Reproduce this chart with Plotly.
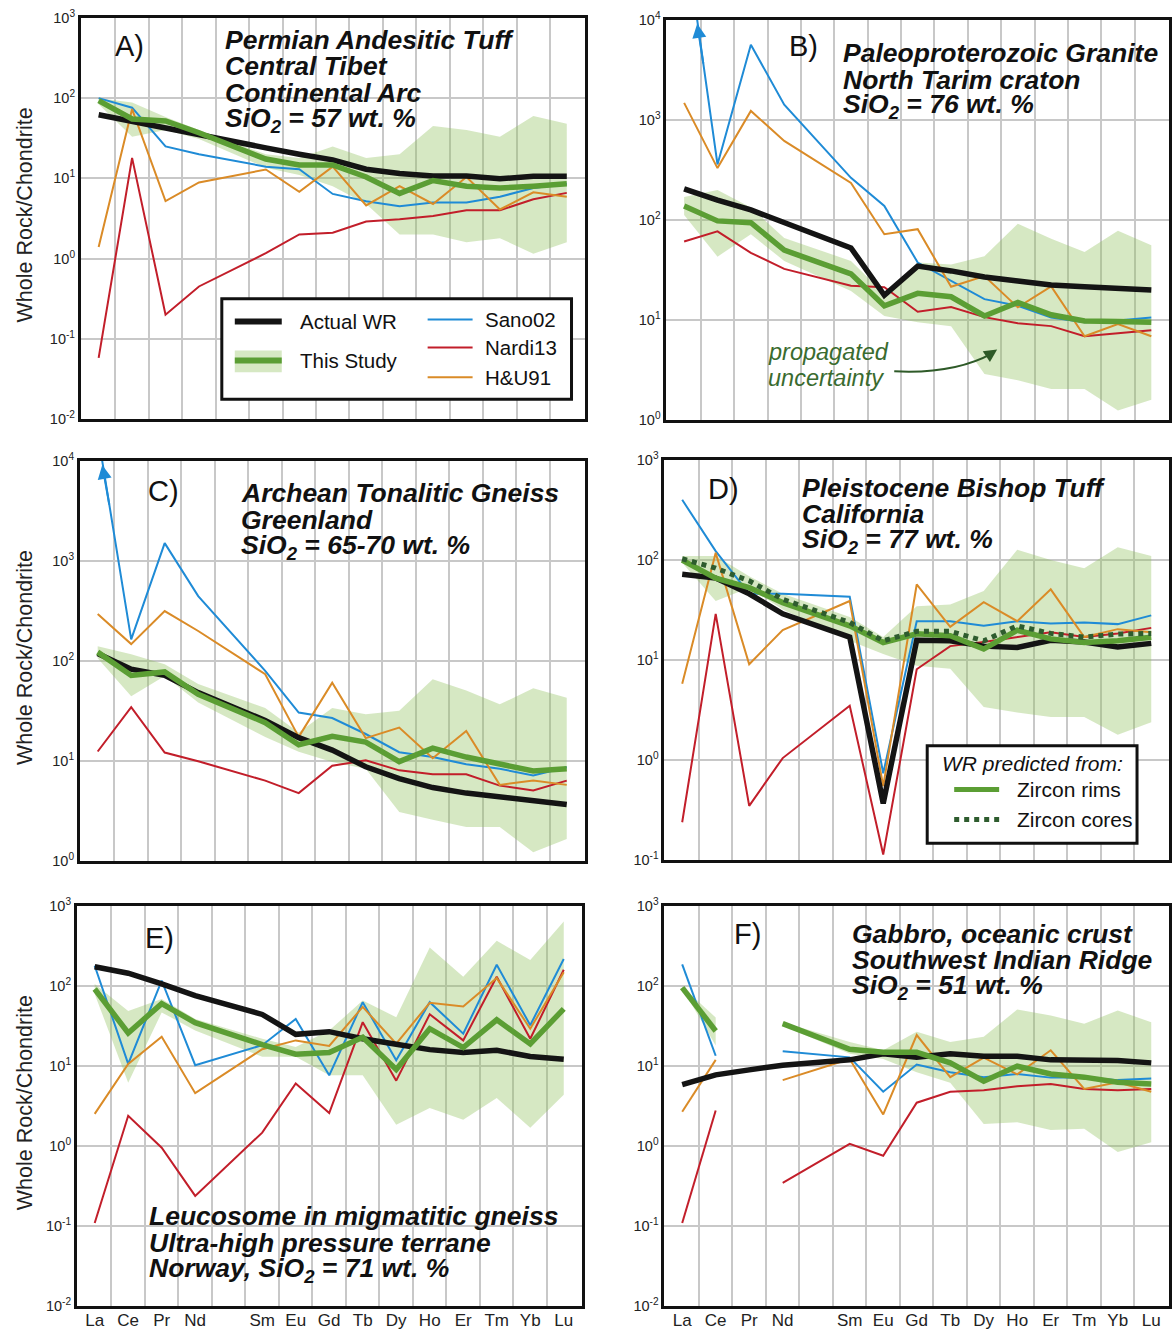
import math
import plotly.graph_objects as go

W, H = 1172, 1333

# Rare earth elements, chondrite-normalised; Pm keeps an empty slot on the axis
REE = ["La", "Ce", "Pr", "Nd", "Sm", "Eu", "Gd", "Tb", "Dy", "Ho", "Er", "Tm", "Yb", "Lu"]
XPOS = [i if i < 4 else i + 1 for i in range(len(REE))]

# A) Permian andesitic tuff, central Tibet
A_wr = [62, 51, 43, 35, 24, 20, 17, 13, 11.5, 10.7, 10.7, 9.9, 10.6, 10.6]
A_est = [93, 55, 52, 37, 17.4, 14.7, 14.7, 10.4, 6.5, 9.4, 8.0, 7.6, 8.0, 8.6]
A_hi = [100, 88, 58, 40, 20, 18, 25, 18, 20, 45, 40, 33, 60, 48]
A_lo = [84, 33, 40, 31, 13.6, 11, 8, 4.8, 2.0, 2.0, 1.6, 1.8, 1.15, 1.6]
A_sano = [100, 76, 25, 20, 14, 13, 6.4, 5.2, 4.5, 5.0, 5.0, 5.9, 7.6, 8.6]
A_nardi = [0.058, 18, 0.2, 0.45, 1.17, 2.0, 2.1, 2.9, 3.1, 3.4, 4.0, 4.0, 5.5, 6.6]
A_hu = [1.4, 73, 5.2, 8.9, 12.9, 6.8, 14, 4.6, 8.0, 4.8, 10.4, 4.1, 6.7, 5.9]

# B) Paleoproterozoic granite, North Tarim craton
B_wr = [205, 158, 126, 94, 52.6, 17.7, 34.6, 31, 27, 24.6, 22.4, 21.5, 21, 20]
B_est = [138, 98, 94, 50, 29, 13.9, 18.5, 17.1, 11, 15, 11.3, 9.8, 9.7, 9.5]
B_hi = [170, 199, 133, 66, 39, 18.3, 37.6, 36, 43.5, 92, 65, 48, 78, 56]
B_lo = [112, 43, 72, 39, 19.5, 11, 9.5, 8.7, 2.9, 2.5, 2.05, 2.05, 1.25, 1.6]
B_sano = [85000, 359, 5630, 1420, 264, 138, 37.6, 24.7, 16.2, 13.9, 10.6, 9.5, 9.9, 10.6]
B_nardi = [61, 77, 47, 32.5, 22, 21.3, 12.1, 13.5, 10.7, 9.3, 8.7, 6.9, 7.4, 7.9]
B_hu = [1480, 330, 1230, 617, 235, 72, 81, 21.5, 27.5, 13.4, 21.7, 6.9, 9.1, 6.9]

# C) Archean tonalitic gneiss, Greenland
C_wr = [119, 83, 72, 48.5, 25.5, 17.2, 12.9, 8.8, 6.7, 5.45, 4.8, 4.4, 4.0, 3.7]
C_est = [123, 72, 78, 46.5, 24.3, 14.6, 17.7, 15.5, 9.9, 13.5, 11, 9.4, 8.0, 8.4]
C_hi = [141, 117, 93, 59, 34, 19.3, 34, 29.5, 32, 66, 51, 37, 53.5, 43]
C_lo = [107, 44.6, 71, 38.5, 17.5, 12.4, 9.8, 8.4, 3.1, 2.6, 2.2, 2.2, 1.23, 1.67]
C_sano = [19000, 165, 1510, 446, 80, 30.6, 27, 18.7, 12.3, 11, 9.3, 8.4, 7.2, 8.7]
C_nardi = [12.5, 34.6, 12.2, 10, 6.4, 4.8, 9.0, 10.2, 8.1, 7.4, 7.4, 5.7, 5.1, 6.4]
C_hu = [296, 148, 316, 200, 74, 17.5, 61, 17, 21.7, 10.7, 20, 5.8, 6.4, 5.8]

# D) Pleistocene Bishop Tuff, California
D_wr = [72, 66, 46, 29, 17, 0.37, 15.8, 15.6, 13.8, 13.4, 15.8, 15.2, 13.5, 14.7]
D_rims = [100, 66, 53, 37.6, 22, 15, 18.3, 17.5, 12.9, 19.9, 16.3, 15, 15.6, 16.9]
D_cores = [103, 83, 62, 40.6, 23.8, 15.6, 19.4, 19.4, 15.6, 22, 18.5, 17, 18.2, 18.5]
D_hi = [110, 110, 69, 46, 27, 17, 34.6, 36, 49, 127, 100, 83, 134, 110]
D_lo = [94, 39, 53, 32, 15.6, 11.5, 8.8, 8.2, 3.4, 3.0, 2.7, 2.7, 1.8, 2.4]
D_sano = [400, 123, 46, 46, 43, 0.74, 24.5, 24.5, 22, 24.5, 23.2, 23.8, 22.9, 28]
D_nardi = [0.24, 29, 0.35, 1.05, 3.5, 0.114, 8.1, 13.8, 15.2, 17, 19, 17, 18.5, 21]
D_hu = [5.8, 118, 9.1, 20, 39, 0.55, 57, 21.5, 38, 24.5, 51, 17, 20.4, 19]

# E) Leucosome in migmatitic gneiss, Norway
E_wr = [175, 145, 107, 76, 44.3, 25, 27, 22, 18.8, 16.1, 14.8, 15.8, 13.2, 12.2]
E_est = [92, 26, 60.5, 35, 18.6, 14.1, 14.8, 23, 9.1, 29.4, 17.1, 38, 19, 52]
E_hi = [106, 49, 69, 39, 22, 17.4, 28, 66, 41, 303, 131, 368, 212, 640]
E_lo = [80, 6.2, 47, 28, 13.1, 13.1, 7.7, 7.7, 1.86, 3.0, 2.15, 4.0, 1.7, 4.4]
E_sano = [180, 10.7, 117, 10.3, 18.3, 39, 7.7, 63, 11.9, 63, 25.5, 185, 32.5, 218]
E_nardi = [0.11, 2.4, 0.96, 0.24, 1.48, 6.1, 2.6, 35.5, 6.6, 44.5, 21, 131, 22, 160]
E_hu = [2.54, 10.7, 23.4, 4.6, 16.3, 21, 17.9, 55, 19.1, 62, 55.6, 126, 29.4, 149]

# F) Gabbro, Southwest Indian Ridge (no Pr estimate)
F_wr = [5.9, 7.8, 9.0, 10.3, 12, 14.3, 12.9, 14.3, 13.3, 13.3, 12, 11.8, 11.8, 11]
F_est = [96, 27.5, None, 34, 16.3, 14.9, 14.9, 11, 6.5, 10, 8.0, 7.3, 6.3, 6.0]
F_hi = [98, 40.5, None, 35.5, 20, 15.8, 27, 20, 23.3, 51, 43, 34, 49.5, 35.5]
F_lo = [94, 18.2, None, 32, 14.3, 12.3, 8.4, 6.2, 1.9, 2.0, 1.6, 1.66, 0.85, 1.12]
F_sano = [187, 13.5, None, 15.4, 12.9, 4.8, 10.5, 8.4, 7.3, 8.0, 7.2, 7.3, 6.7, 7.0]
F_nardi = [0.11, 2.8, None, 0.35, 1.07, 0.76, 3.5, 4.8, 5.0, 5.6, 6.0, 5.2, 5.0, 5.2]
F_hu = [2.7, 12, None, 6.7, 12.3, 2.5, 24.5, 7.3, 12.8, 7.9, 15.8, 5.2, 6.3, 4.8]

FONT = "Liberation Sans, Arial, Helvetica, sans-serif"
COL_WR = "#141414"
COL_EST = "#5b9e34"
COL_CORE = "#2e5c2e"
COL_BAND = "rgba(140,190,90,0.36)"
COL_SANO = "#1f8bd6"
COL_NARDI = "#c21e2a"
COL_HU = "#da8b27"
GRID = "#c8c8c8"

panels = [
    dict(letter="A)", box=(81, 585, 14, 417), yr=(-2, 3), wr=A_wr, est=A_est, hi=A_hi, lo=A_lo,
         sano=A_sano, nardi=A_nardi, hu=A_hu, cores=None, xlabels=False, ytitle=True,
         letter_pos=(113, 42),
         title=["Permian Andesitic Tuff", "Central Tibet", "Continental Arc",
                "SiO<sub>2</sub> = 57 wt. %"], title_pos=(223, 36), gap=26.7),
    dict(letter="B)", box=(667, 1170, 16, 418), yr=(0, 4), wr=B_wr, est=B_est, hi=B_hi, lo=B_lo,
         sano=B_sano, nardi=B_nardi, hu=B_hu, cores=None, xlabels=False, ytitle=False,
         letter_pos=(788, 42),
         title=["Paleoproterozoic Granite", "North Tarim craton", "SiO<sub>2</sub> = 76 wt. %"],
         title_pos=(842, 49), gap=27),
    dict(letter="C)", box=(80, 585, 459, 861), yr=(0, 4), wr=C_wr, est=C_est, hi=C_hi, lo=C_lo,
         sano=C_sano, nardi=C_nardi, hu=C_hu, cores=None, xlabels=False, ytitle=True,
         letter_pos=(146, 489),
         title=["Archean Tonalitic Gneiss", "Greenland", "SiO<sub>2</sub> = 65-70 wt. %"],
         title_pos=(239, 491), gap=27),
    dict(letter="D)", box=(665, 1170, 458, 860), yr=(-1, 3), wr=D_wr, est=D_rims, hi=D_hi, lo=D_lo,
         sano=D_sano, nardi=D_nardi, hu=D_hu, cores=D_cores, xlabels=False, ytitle=False,
         letter_pos=(707, 487),
         title=["Pleistocene Bishop Tuff", "California", "SiO<sub>2</sub> = 77 wt. %"],
         title_pos=(801, 486), gap=26.5),
    dict(letter="E)", box=(77, 582, 906, 1308), yr=(-2, 3), wr=E_wr, est=E_est, hi=E_hi, lo=E_lo,
         sano=E_sano, nardi=E_nardi, hu=E_hu, cores=None, xlabels=True, ytitle=True,
         letter_pos=(143, 938),
         title=["Leucosome in migmatitic gneiss", "Ultra-high pressure terrane",
                "Norway, SiO<sub>2</sub> = 71 wt. %"], title_pos=(147, 1217), gap=27),
    dict(letter="F)", box=(665, 1170, 906, 1308), yr=(-2, 3), wr=F_wr, est=F_est, hi=F_hi, lo=F_lo,
         sano=F_sano, nardi=F_nardi, hu=F_hu, cores=None, xlabels=True, ytitle=False,
         letter_pos=(733, 934),
         title=["Gabbro, oceanic crust", "Southwest Indian Ridge", "SiO<sub>2</sub> = 51 wt. %"],
         title_pos=(851, 934), gap=26.5),
]

XR = [-0.53, 14.53]

# layout grid: rows are laid out on a 0.9907 pitch starting 6.1 px down
ROW0, ROW_PITCH = 6.1, 0.9907


def px(x):
    return x / W


def py(y):
    return 1 - ((y - ROW0) / ROW_PITCH) / H


def band_segments(lo, hi):
    segs, cur = [], []
    for x, l, h in zip(XPOS, lo, hi):
        if l is None or h is None:
            if cur:
                segs.append(cur)
            cur = []
        else:
            cur.append((x, l, h))
    if cur:
        segs.append(cur)
    return segs


fig = go.Figure()
annotations = []
shapes = []
layout_axes = {}

for i, p in enumerate(panels, start=1):
    sfx = "" if i == 1 else str(i)
    xa, ya = "x" + sfx, "y" + sfx

    # propagated uncertainty envelope
    for seg in band_segments(p["lo"], p["hi"]):
        xs = [s[0] for s in seg] + [s[0] for s in reversed(seg)]
        ys = [s[2] for s in seg] + [s[1] for s in reversed(seg)]
        fig.add_trace(go.Scatter(x=xs, y=ys, fill="toself", fillcolor=COL_BAND,
                                 line=dict(width=0), mode="lines", hoverinfo="skip",
                                 showlegend=False, xaxis=xa, yaxis=ya))

    for key, col in (("sano", COL_SANO), ("nardi", COL_NARDI), ("hu", COL_HU)):
        fig.add_trace(go.Scatter(x=XPOS, y=p[key], mode="lines", line=dict(color=col, width=2),
                                 connectgaps=False, showlegend=False, xaxis=xa, yaxis=ya))

    fig.add_trace(go.Scatter(x=XPOS, y=p["wr"], mode="lines", line=dict(color=COL_WR, width=5.5),
                             showlegend=False, xaxis=xa, yaxis=ya))
    fig.add_trace(go.Scatter(x=XPOS, y=p["est"], mode="lines", line=dict(color=COL_EST, width=5.5),
                             connectgaps=False, showlegend=False, xaxis=xa, yaxis=ya))
    if p["cores"] is not None:
        fig.add_trace(go.Scatter(x=XPOS, y=p["cores"], mode="lines",
                                 line=dict(color=COL_CORE, width=5, dash="dot"),
                                 showlegend=False, xaxis=xa, yaxis=ya))

    # off-scale Sano02 values: arrow where the segment leaves the top of the panel
    ymax = p["yr"][1]
    s = p["sano"]
    if s[0] is not None and math.log10(s[0]) > ymax:
        la, lb = math.log10(s[0]), math.log10(s[1])
        t_top = (ymax - lb) / (la - lb)
        t_tail = (ymax - 0.45 - lb) / (la - lb)
        xtip = XPOS[1] + t_top * (XPOS[0] - XPOS[1])
        xtail = XPOS[1] + t_tail * (XPOS[0] - XPOS[1])
        annotations.append(dict(x=xtip, y=ymax - 0.04, xref=xa, yref=ya,
                                ax=xtail, ay=ymax - 0.45, axref=xa, ayref=ya,
                                showarrow=True, arrowhead=2, arrowsize=1.4, arrowwidth=2,
                                arrowcolor=COL_SANO, text=""))

    x0, x1, yt, yb = p["box"]
    lo_e, hi_e = p["yr"]
    layout_axes["xaxis" + sfx] = dict(
        domain=[px(x0), px(x1)], range=XR, anchor=ya, showline=True, mirror=True,
        linecolor="#111", linewidth=3, zeroline=False, showgrid=False,
        tickmode="array", tickvals=XPOS, ticktext=REE, ticks="", ticklabelstandoff=-4,
        showticklabels=p["xlabels"], tickfont=dict(family=FONT, size=17, color="#222"),
        minor=dict(tickmode="array", tickvals=[k + 0.5 for k in range(14)], showgrid=True,
                   gridcolor=GRID, gridwidth=1.5, ticks=""),
    )
    layout_axes["yaxis" + sfx] = dict(
        domain=[py(yb), py(yt)], type="log", range=[lo_e, hi_e], anchor=xa,
        showline=True, mirror=True, linecolor="#111", linewidth=3, zeroline=False,
        tickmode="array", tickvals=[10 ** k for k in range(lo_e, hi_e + 1)],
        ticktext=[f"10<sup>{k}</sup>" for k in range(lo_e, hi_e + 1)], ticks="",
        showgrid=True, gridcolor=GRID, gridwidth=1.5,
        tickfont=dict(family=FONT, size=14.5, color="#222"),
    )

    annotations.append(dict(x=px(p["letter_pos"][0]), y=py(p["letter_pos"][1]), xref="paper",
                            yref="paper", xanchor="left", yanchor="middle", showarrow=False,
                            text=p["letter"], font=dict(family=FONT, size=29, color="#111")))
    tx, ty = p["title_pos"]
    for k, line in enumerate(p["title"]):
        annotations.append(dict(x=px(tx), y=py(ty + k * p["gap"]), xref="paper", yref="paper",
                                xanchor="left", yanchor="middle", showarrow=False,
                                text=f"<b><i>{line}</i></b>",
                                font=dict(family=FONT, size=26.5, color="#111")))
    if p["ytitle"]:
        annotations.append(dict(x=px(25), y=py((yt + yb) / 2 - 4), xref="paper", yref="paper",
                                xanchor="center", yanchor="middle", showarrow=False,
                                textangle=-90, text="Whole Rock/Chondrite",
                                font=dict(family=FONT, size=21.5, color="#222")))


def hline(xa_, xb_, y_, color, width, dash=None):
    d = dict(type="line", xref="paper", yref="paper", x0=px(xa_), x1=px(xb_), y0=py(y_), y1=py(y_),
             line=dict(color=color, width=width), layer="above")
    if dash:
        d["line"]["dash"] = dash
    return d


# legend for panel A
shapes.append(dict(type="rect", xref="paper", yref="paper", x0=px(222), x1=px(572),
                   y0=py(397), y1=py(296), fillcolor="white", line=dict(color="#111", width=3),
                   layer="above"))
shapes.append(hline(235, 282, 319, COL_WR, 6))
shapes.append(dict(type="rect", xref="paper", yref="paper", x0=px(235), x1=px(282),
                   y0=py(370), y1=py(348), fillcolor=COL_BAND, line=dict(width=0), layer="above"))
shapes.append(hline(235, 282, 358, COL_EST, 6))
shapes.append(hline(428, 473, 317, COL_SANO, 2))
shapes.append(hline(428, 473, 345, COL_NARDI, 2))
shapes.append(hline(428, 473, 375, COL_HU, 2))
for txt, x_, y_ in (("Actual WR", 298, 319), ("This Study", 298, 358), ("Sano02", 483, 317),
                    ("Nardi13", 483, 345), ("H&U91", 483, 375)):
    annotations.append(dict(x=px(x_), y=py(y_), xref="paper", yref="paper", xanchor="left",
                            yanchor="middle", showarrow=False, text=txt,
                            font=dict(family=FONT, size=20.5, color="#111")))

# legend for panel D
shapes.append(dict(type="rect", xref="paper", yref="paper", x0=px(928), x1=px(1138),
                   y0=py(843), y1=py(745), fillcolor="white", line=dict(color="#111", width=3),
                   layer="above"))
shapes.append(hline(955, 1000, 789, COL_EST, 5))
shapes.append(hline(955, 1000, 819, COL_CORE, 5, "dot"))
annotations.append(dict(x=px(941), y=py(763), xref="paper", yref="paper", xanchor="left",
                        yanchor="middle", showarrow=False, text="<i>WR predicted from:</i>",
                        font=dict(family=FONT, size=21, color="#111")))
for txt, y_ in (("Zircon rims", 789), ("Zircon cores", 819)):
    annotations.append(dict(x=px(1016), y=py(y_), xref="paper", yref="paper", xanchor="left",
                            yanchor="middle", showarrow=False, text=txt,
                            font=dict(family=FONT, size=21, color="#111")))

# "propagated uncertainty" label with curved pointer in panel B
for k, txt in enumerate(("propagated", "uncertainty")):
    annotations.append(dict(x=px(767), y=py(350 + 26 * k), xref="paper", yref="paper",
                            xanchor="left", yanchor="middle", showarrow=False,
                            text=f"<i>{txt}</i>", font=dict(family=FONT, size=23.5, color="#3a6b2f")))
shapes.append(dict(type="path", xref="paper", yref="paper",
                   path=f"M {px(895)},{py(369)} Q {px(955)},{py(372)} {px(993)},{py(351)}",
                   line=dict(color="#2e5a28", width=2), layer="above"))
annotations.append(dict(x=px(998), y=py(347), xref="paper", yref="paper", ax=-12, ay=8,
                        showarrow=True, arrowhead=2, arrowsize=1.3, arrowwidth=2,
                        arrowcolor="#2e5a28", text=""))

fig.update_layout(width=W, height=H, margin=dict(l=0, r=0, t=0, b=0),
                  paper_bgcolor="white", plot_bgcolor="white", showlegend=False,
                  font=dict(family=FONT), annotations=annotations, shapes=shapes, **layout_axes)

fig.write_html("out.html")
